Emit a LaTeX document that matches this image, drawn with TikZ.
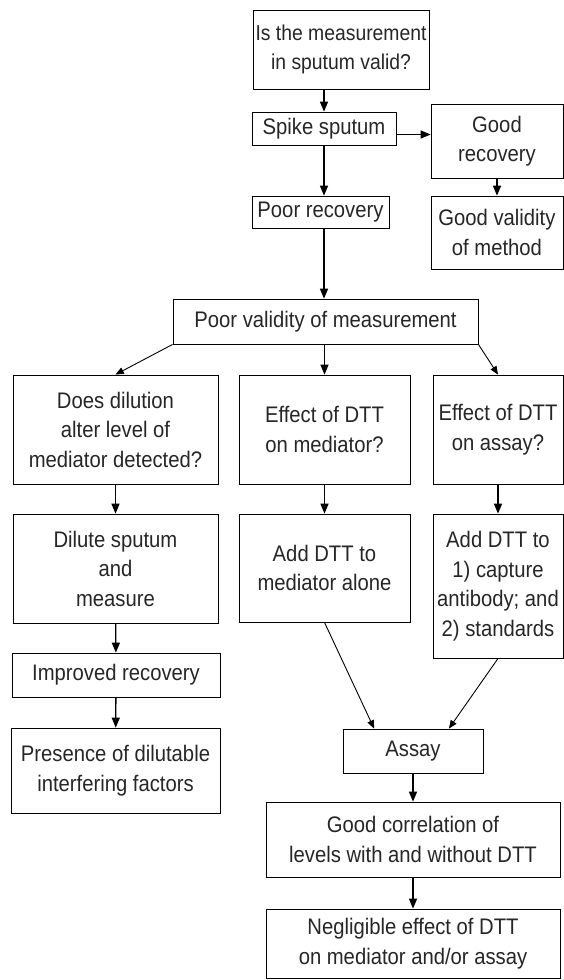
\documentclass[tikz,border=0pt]{standalone}
\usepackage{fontspec}
\setmainfont{Liberation Sans}[FakeStretch=0.9]
\usetikzlibrary{arrows}

\begin{document}
\begin{tikzpicture}[>=triangle 45, x=1pt, y=-1pt]
            \tikzstyle{every node} = [draw=black, line width=0.9pt, inner sep=0pt, align=center, text=black!85, font=\fontsize{22.5}{29.5}\selectfont];
            \useasboundingbox (0,0) rectangle (564,980);
            \node (q) at (341, 49.5) [minimum width=176pt, minimum height=79pt, font=\fontsize{21.5}{29.5}\selectfont] {Is the measurement\\in sputum valid?};
            \node (spike) at (324, 128.5) [minimum width=144pt, minimum height=33pt] {Spike sputum};
            \node (goodrec) at (497, 141) [minimum width=132pt, minimum height=74pt] {Good\\recovery};
            \node (poorrec) at (320.5, 212) [minimum width=137pt, minimum height=32pt] {Poor recovery};
            \node (goodval) at (497, 232.5) [minimum width=132pt, minimum height=73pt] {Good validity\\of method};
            \node (poorval) at (325.5, 321.5) [minimum width=305pt, minimum height=45pt] {Poor validity of measurement};
            \node (dil) at (115.5, 429.5) [minimum width=205pt, minimum height=109pt] {Does dilution\\alter level of\\mediator detected?};
            \node (effmed) at (324.5, 429.5) [minimum width=171pt, minimum height=109pt] {Effect of DTT\\on mediator?};
            \node (effassay) at (498, 429.5) [minimum width=130pt, minimum height=109pt] {Effect of DTT\\on assay?};
            \node (dilute) at (115.5, 568.5) [minimum width=205pt, minimum height=109pt] {Dilute sputum\\and\\measure};
            \node (addmed) at (324.5, 568) [minimum width=171pt, minimum height=108pt] {Add DTT to\\mediator alone};
            \node (addassay) at (498, 586) [minimum width=130pt, minimum height=144pt] {Add DTT to\\1) capture\\antibody; and\\2) standards};
            \node (improved) at (116, 675) [minimum width=208pt, minimum height=44pt] {Improved recovery};
            \node (presence) at (115.5, 770.5) [minimum width=209pt, minimum height=85pt] {Presence of dilutable\\interfering factors};
            \node (assay) at (413, 751) [minimum width=140pt, minimum height=44pt] {Assay};
            \node (goodcorr) at (413, 839.5) [minimum width=294pt, minimum height=75pt] {Good correlation of\\levels with and without DTT};
            \node (neglig) at (413, 943.5) [minimum width=294pt, minimum height=69pt] {Negligible effect of DTT\\on mediator and/or assay};
            \draw[->,line width=1.3pt] (q.south -| spike.north) -- (spike.north);
            \draw[->,line width=1.3pt] (spike.south) -- (spike.south |- poorrec.north);
            \draw[->,line width=1.3pt] ([yshift=-6pt]spike.east) -- ([yshift=-6pt]spike.east -| goodrec.west);
            \draw[->,line width=1.3pt] (goodrec) -- (goodval);
            \draw[->,line width=1.3pt] (spike.south |- poorrec.south) -- (spike.south |- poorval.north);
            \draw[->,line width=0.9pt] (poorval.south west) -- (dil.north);
            \draw[->,line width=1.3pt] (poorval.south -| effmed.north) -- (effmed.north);
            \draw[->,line width=0.9pt] (poorval.south east) -- (effassay.north);
            \draw[->,line width=1.3pt] (dil) -- (dilute);
            \draw[->,line width=1.3pt] (effmed) -- (addmed);
            \draw[->,line width=1.3pt] (effassay) -- (addassay);
            \draw[->,line width=1.3pt] (dilute) -- (improved);
            \draw[->,line width=1.3pt] (improved) -- (presence);
            \draw[->,line width=0.9pt] (addmed.south) -- (assay.150);
            \draw[->,line width=0.9pt] (addassay.south) -- (assay.32);
            \draw[->,line width=1.3pt] (assay) -- (goodcorr);
            \draw[->,line width=1.3pt] (goodcorr) -- (neglig);
        \end{tikzpicture}
\end{document}
